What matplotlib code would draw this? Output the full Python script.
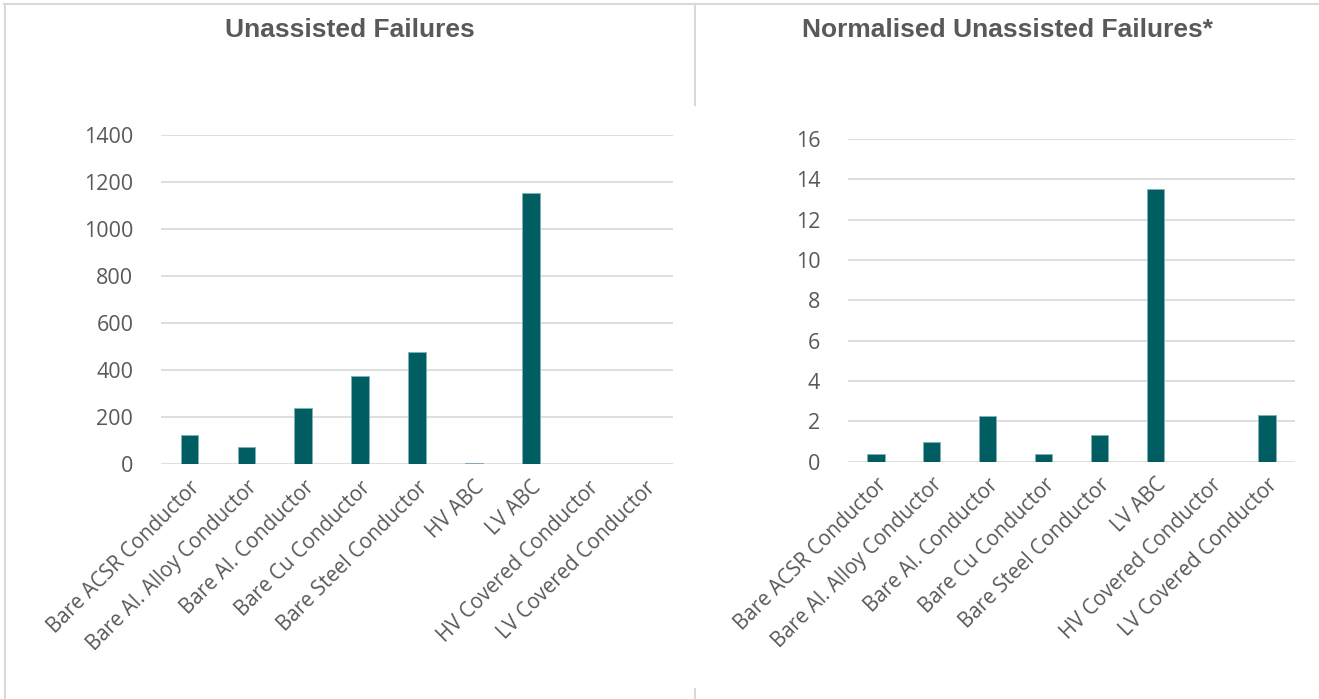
import matplotlib.pyplot as plt
from matplotlib.lines import Line2D

# failures per conductor type
categories = ["Bare ACSR Conductor", "Bare Al. Alloy Conductor", "Bare Al. Conductor",
              "Bare Cu Conductor", "Bare Steel Conductor", "HV ABC", "LV ABC",
              "HV Covered Conductor", "LV Covered Conductor"]
failures = [125, 75, 240, 375, 480, 8, 1155, 0, 0]

# normalised failures (no HV ABC category here)
categories_norm = ["Bare ACSR Conductor", "Bare Al. Alloy Conductor", "Bare Al. Conductor",
                   "Bare Cu Conductor", "Bare Steel Conductor", "LV ABC",
                   "HV Covered Conductor", "LV Covered Conductor"]
failures_norm = [0.38, 1.0, 2.28, 0.38, 1.33, 13.5, 0, 2.3]

bar_color = "#005E63"
grid_color = "#D9D9D9"
text_color = "#595959"

fig = plt.figure(figsize=(13.19, 6.99), dpi=100)


def dibujar(ax, cats, vals, ymax, step, titulo, xtitulo):
    ax.bar(range(len(cats)), vals, width=0.31, color=bar_color,
           edgecolor="#7FB3B5", linewidth=0.6, zorder=3)
    ax.set_xlim(-0.5, len(cats) - 0.5)
    ax.set_ylim(0, ymax)
    ax.set_yticks(range(0, ymax + 1, step))
    ax.yaxis.grid(True, color=grid_color, linewidth=1.2, zorder=0)
    ax.set_axisbelow(True)
    for s in ax.spines.values():
        s.set_visible(False)
    ax.tick_params(axis="y", length=0, labelsize=15.5, colors=text_color, pad=20)
    ax.tick_params(axis="x", length=0, colors=text_color, pad=9)
    ax.set_xticks(range(len(cats)))
    ax.set_xticklabels(cats, rotation=45, ha="right", rotation_mode="anchor",
                       fontfamily="Open Sans", fontsize=14.8, color=text_color)
    for t in ax.get_yticklabels():
        t.set_fontfamily("Open Sans")
    fig.text(xtitulo, 0.957, titulo, ha="center", va="center", fontsize=19,
             fontweight="bold", family="Liberation Sans", color=text_color)


ax1 = fig.add_axes([0.1221, 0.3355, 0.3882, 0.4709])
dibujar(ax1, categories, failures, 1400, 200, "Unassisted Failures", 0.265)

ax2 = fig.add_axes([0.6429, 0.3395, 0.3389, 0.4616])
dibujar(ax2, categories_norm, failures_norm, 16, 2, "Normalised Unassisted Failures*", 0.7635)

# marco de los dos paneles
borde = "#D9D9D9"
fig.add_artist(Line2D([0.003, 1.0], [0.994, 0.994], color=borde, lw=1.5))
fig.add_artist(Line2D([0.004, 0.004], [0.0, 0.994], color=borde, lw=1.5))
fig.add_artist(Line2D([0.527, 0.527], [0.85, 0.994], color=borde, lw=1.5))
fig.add_artist(Line2D([0.527, 0.527], [0.0, 0.015], color=borde, lw=1.5))

fig.savefig("out.png", dpi=100, facecolor="white")
